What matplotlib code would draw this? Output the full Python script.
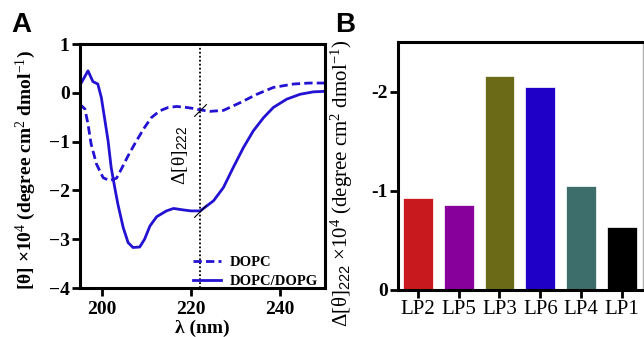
import matplotlib
matplotlib.use('Agg')
import matplotlib.pyplot as plt
from matplotlib.path import Path

plt.rcParams['font.family'] = 'Liberation Serif'
plt.rcParams['mathtext.fontset'] = 'custom'
plt.rcParams['mathtext.rm'] = 'Liberation Serif'
plt.rcParams['mathtext.it'] = 'Liberation Serif:italic'
plt.rcParams['mathtext.bf'] = 'Liberation Serif:bold'
plt.rcParams['mathtext.sf'] = 'Liberation Sans'

# panel A: CD spectra
wl_dopc = [195.0, 196.2, 196.9, 197.6, 198.8, 200.3, 201.8, 203.3, 204.4, 205.9, 207.8,
           209.6, 211.1, 213.0, 214.9, 216.8, 219.0, 220.5, 222.1, 224.3, 227.3, 231.1,
           234.8, 238.5, 243.0, 246.5, 250.1]
cd_dopc = [-0.23, -0.33, -0.64, -1.05, -1.46, -1.74, -1.80, -1.75, -1.56, -1.29, -0.98,
           -0.71, -0.51, -0.37, -0.30, -0.28, -0.30, -0.32, -0.35, -0.38, -0.36, -0.20,
           -0.03, 0.11, 0.18, 0.20, 0.20]

wl_pg = [195.0, 196.9, 198.0, 199.1, 199.9, 200.6, 201.4, 202.1, 202.9, 203.6, 204.8,
         205.9, 207.0, 208.5, 209.6, 210.8, 212.3, 214.5, 216.1, 218.3, 220.0, 222.1,
         225.1, 227.3, 229.5, 231.8, 234.0, 236.3, 238.5, 241.5, 244.5, 247.5, 250.1]
cd_pg = [0.14, 0.45, 0.23, 0.18, -0.10, -0.51, -0.98, -1.53, -1.94, -2.28, -2.76,
         -3.07, -3.17, -3.16, -3.00, -2.73, -2.54, -2.42, -2.37, -2.40, -2.42, -2.42,
         -2.21, -1.94, -1.53, -1.12, -0.78, -0.51, -0.30, -0.13, -0.03, 0.02, 0.03]

# panel B: delta theta at 222 nm
peptides = ['LP2', 'LP5', 'LP3', 'LP6', 'LP4', 'LP1']
delta222 = [-0.93, -0.86, -2.16, -2.05, -1.05, -0.63]
bar_colors = ['#c81a1e', '#87009b', '#6b6b17', '#1f00c7', '#3d6e6c', '#000000']

blue = '#2312d2'
slash = Path([(-1, -1), (1, 1)], [Path.MOVETO, Path.LINETO])

fig = plt.figure(figsize=(6.44, 3.37), dpi=100)
axA = fig.add_axes([0.1242, 0.1454, 0.3805, 0.724])
axB = fig.add_axes([0.618, 0.1395, 0.3804, 0.7359])

axA.plot(wl_dopc, cd_dopc, color=blue, lw=2, ls=(0, (3, 1.5)), label='DOPC')
axA.plot(wl_pg, cd_pg, color=blue, lw=2, label='DOPC/DOPG')
axA.axvline(222, color='black', lw=1.3, ls=(0, (1, 1.2)), zorder=1)
axA.plot([222, 222], [-0.35, -2.42], ls='none', marker=slash, ms=9,
         mec='black', mew=0.8)
axA.text(217.6, -1.29, r'$\mathrm{Δ[θ]}_{\mathsf{222}}$', rotation=90,
         ha='center', va='center', fontsize=14)
axA.set_xlim(195.1, 250.1)
axA.set_ylim(-4, 1)
axA.set_xticks([200, 220, 240])
axA.set_yticks([1, 0, -1, -2, -3, -4])
axA.set_xlabel('λ (nm)', fontsize=14, fontweight='bold', labelpad=1)
axA.set_ylabel(r'[θ] ×10$^{4}$ (degree cm$^{2}$ dmol$^{-1}$)', fontsize=14,
               fontweight='bold')
axA.yaxis.set_label_coords(-0.171, 0.484)
leg = axA.legend(loc='lower right', bbox_to_anchor=(1.0, -0.03), frameon=False,
                 handlelength=1.9, handletextpad=0.6, borderaxespad=0.1,
                 labelspacing=0.42,
                 prop={'family': 'Liberation Serif', 'weight': 'bold', 'size': 10.5})

axB.bar(range(len(peptides)), delta222, width=0.73, color=bar_colors,
        edgecolor='white', linewidth=0.5)
axB.set_xlim(-0.49, 5.52)
axB.set_ylim(0, -2.5)
axB.set_yticks([0, -1, -2])
axB.set_yticklabels(['0', '-1', '-2'])
axB.set_xticks(range(len(peptides)))
axB.set_xticklabels(peptides)
axB.set_ylabel(r'$\mathrm{Δ[θ]}_{\mathsf{222}}$ ×10$^{4}$ (degree cm$^{2}$ dmol$^{-1}$)',
               fontsize=15)
axB.yaxis.set_label_coords(-0.176, 0.43)
axB.spines['right'].set_color('#b0b0b0')
axB.spines['right'].set_linewidth(1)

for ax in (axA, axB):
    for s in ['left', 'bottom', 'top']:
        ax.spines[s].set_linewidth(2.2)
    ax.tick_params(direction='out', length=5.5, width=2, labelsize=14, pad=2)
    for lab in ax.get_yticklabels():
        lab.set_fontweight('bold')
axA.tick_params(axis='x', pad=4)
axB.tick_params(axis='x', labelsize=15)
for lab in axA.get_xticklabels():
    lab.set_fontweight('bold')
axA.spines['right'].set_linewidth(2.2)

fig.text(0.018, 0.965, 'A', fontsize=20, fontweight='bold', family='Liberation Sans',
         va='top', ha='left')
fig.text(0.52, 0.965, 'B', fontsize=20, fontweight='bold', family='Liberation Sans',
         va='top', ha='left')

fig.savefig('out.png', dpi=100)
